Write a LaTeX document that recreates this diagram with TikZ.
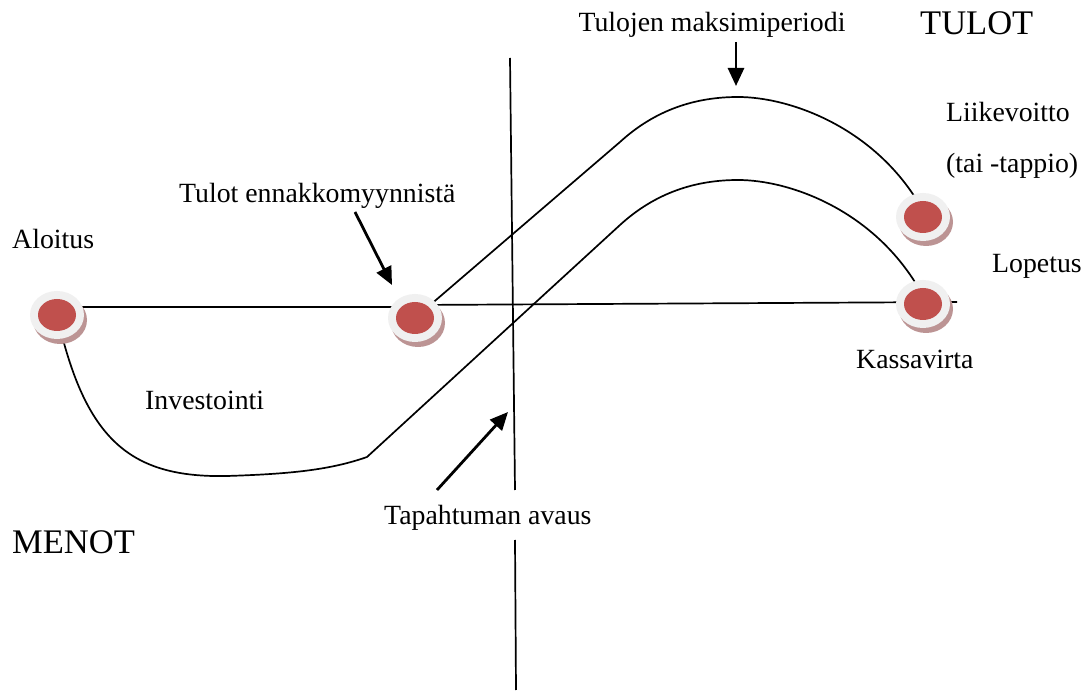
\documentclass[tikz,border=0pt]{standalone}
\usepackage{fontspec}
\setmainfont{Liberation Serif}
\usetikzlibrary{arrows.meta,shapes.geometric}
\definecolor{dotred}{HTML}{C0504D}
\definecolor{ringgray}{HTML}{F0F0F0}
\definecolor{shadowcol}{HTML}{BC9494}
\pgfdeclarelayer{background}
\pgfsetlayers{background,main}
\begin{document}
\begin{tikzpicture}[x=1pt,y=-1pt,
  dot/.style={ellipse, minimum width=54pt, minimum height=48pt, inner sep=0pt, fill=ringgray,
    preaction={fill=shadowcol, transform canvas={xshift=3pt,yshift=-5pt}},
    path picture={\fill[dotred] (path picture bounding box.center) ellipse [x radius=19pt, y radius=16pt];}},
  lbl/.style={font=\fontsize{27.8}{32}\selectfont, inner sep=0pt},
  big/.style={font=\fontsize{34.5}{40}\selectfont, inner sep=0pt},
  curve/.style={line width=1.7pt, line join=round},
  pointer/.style={line width=2.8pt, -{Triangle[length=18pt,width=16pt]}}]
\useasboundingbox (0,0) rectangle (1088,692);

% circles
\node[dot] (start) at (57,315) {};
\node[dot] (presale) at (415,318) {};
\node[dot] (profit) at (923,217) {};
\node[dot] (cash) at (923,304) {};

% helper coordinates
\coordinate (cashend) at (957,302);
\coordinate (upkink) at (620,142);
\coordinate (uppeak) at (738,97);
\coordinate (upend) at (918,202);
\coordinate (lowkink) at (620,225);
\coordinate (lowpeak) at (738,180);
\coordinate (lowend) at (918,287);
\coordinate (invbottom) at (227,476);
\coordinate (invkink) at (367,457);
\coordinate (vtop) at (510,58);
\coordinate (vmid) at (515,490);
\coordinate (vlow) at (515,540);
\coordinate (vbot) at (516,690);

\begin{pgfonlayer}{background}
\fill[white] (0,0) rectangle (1088,692);
\draw[curve] (start.center |- 0,307) -- (presale.center |- 0,307);
\draw[curve] (presale.center |- 0,305) -- (cashend);
% upper curve
\draw[curve] (presale.center) -- (upkink)
  .. controls (655,110) and (695,97) .. (uppeak)
  .. controls (790,97) and (872,127) .. (upend);
% investment / lower curve
\draw[curve] (start.center) .. controls (85,440) and (130,478) .. (invbottom)
  .. controls (290,474) and (330,470) .. (invkink)
  -- (lowkink)
  .. controls (655,193) and (695,180) .. (lowpeak)
  .. controls (790,180) and (872,210) .. (lowend);
% vertical line
\draw[curve] (vtop) -- (vmid);
\draw[curve] (vlow) -- (vbot);
\end{pgfonlayer}

% labels
\node[lbl, anchor=base] (maxlbl) at (712,32) {Tulojen maksimiperiodi};
\node[big, anchor=base west] (tulot) at (920,35) {TULOT};
\node[lbl, anchor=base west] (lv) at (946,122) {Liikevoitto};
\node[lbl, anchor=base west] (tp) at (946,173) {(tai -tappio)};
\node[lbl, anchor=base west] (lop) at (992,273) {Lopetus};
\node[lbl, anchor=base west] (kassa) at (856,369) {Kassavirta};
\node[lbl, anchor=base west] (presalelbl) at (179,203) {Tulot ennakkomyynnistä};
\node[lbl, anchor=base west] (alo) at (12,249) {Aloitus};
\node[lbl, anchor=base west] (inv) at (145,410) {Investointi};
\node[big, anchor=base west] (menot) at (12,554) {MENOT};
\node[lbl, anchor=base west] (avaus) at (384,525) {Tapahtuman avaus};

% arrows
\coordinate (a1t) at (736,42);
\coordinate (a1h) at (736,86);
\coordinate (a2t) at (355,212);
\coordinate (a2h) at (392,285);
\coordinate (a3t) at (437,490);
\coordinate (a3h) at (508,412);
\draw[pointer] (a1t) -- (a1h);
\draw[pointer] (a2t) -- (a2h);
\draw[pointer] (a3t) -- (a3h);
\end{tikzpicture}
\end{document}
